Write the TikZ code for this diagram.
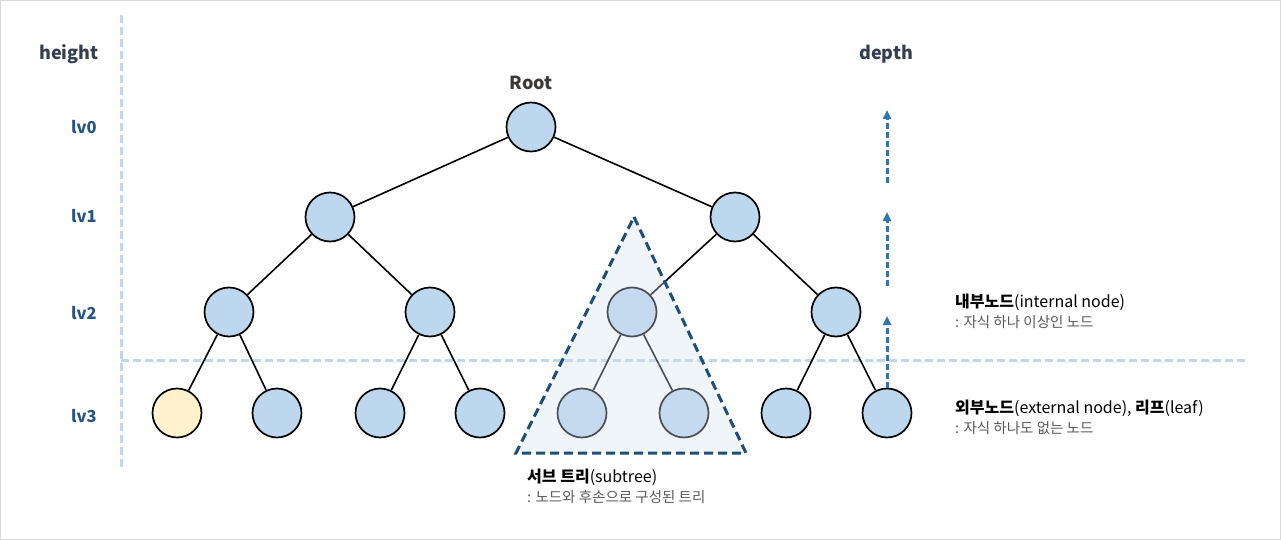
\documentclass[tikz,border=0pt]{standalone}
\usepackage{fontspec}
\setmainfont{Noto Sans CJK KR}
\usepackage{tikz}
\usetikzlibrary{arrows.meta, positioning}
\definecolor{nodeblue}{RGB}{189,215,238}
\definecolor{leafyellow}{RGB}{255,242,204}
\definecolor{guideblue}{RGB}{189,215,238}
\definecolor{depthblue}{RGB}{46,117,182}
\definecolor{subnavy}{RGB}{31,78,121}
\definecolor{subfill}{RGB}{212,226,241}
\definecolor{lvblue}{RGB}{38,84,134}
\definecolor{headgray}{RGB}{51,63,80}
\definecolor{rootgray}{RGB}{59,56,56}
\definecolor{descgray}{RGB}{89,89,89}
\definecolor{framegray}{RGB}{217,217,217}
\tikzset{
  tnode/.style={circle, draw=black, line width=1.7pt, fill=nodeblue,
    minimum size=49pt, inner sep=0pt},
  leafnode/.style={tnode, fill=leafyellow},
  link/.style={line width=1.6pt, black},
  guide/.style={line width=3pt, guideblue, dash pattern=on 8pt off 4pt},
  deptharrow/.style={-{Triangle[length=9pt, width=8pt]}, line width=3pt,
    depthblue, dash pattern=on 6pt off 3pt},
  subtri/.style={line width=3pt, draw=subnavy, dash pattern=on 9pt off 5pt,
    fill=subfill, fill opacity=0.35, draw opacity=1},
  lvlabel/.style={font=\fontsize{16.5}{18}\selectfont\bfseries, text=lvblue},
  headlabel/.style={font=\fontsize{18}{20}\selectfont\bfseries, text=headgray,
    inner sep=0pt},
  desc/.style={font=\fontsize{16}{18}\selectfont, inner sep=0pt, anchor=west},
  subdesc/.style={font=\fontsize{14.5}{16}\selectfont, text=descgray,
    inner sep=0pt},
}
\begin{document}
\begin{tikzpicture}[x=1pt, y=-1pt]
  \useasboundingbox (0,0) rectangle (1281,540);
  \draw[framegray, line width=1pt] (0.5,0.5) rectangle (1280.5,539.5);

  \draw[guide] (121,15) -- (121,468);
  \draw[guide] (121,360) -- (1248,360);

  \node[headlabel] (height) at (69,54) {height};
  \node[headlabel] (depth) at (886,54) {depth};
  \node[lvlabel] (lv0) at (84,127) {lv0};
  \node[lvlabel] (lv1) at (84,216) {lv1};
  \node[lvlabel] (lv2) at (84,313) {lv2};
  \node[lvlabel] (lv3) at (84,416) {lv3};

  \node[tnode] (root) at (531,127) {};
  \node[headlabel, text=rootgray, above=12pt of root] (rootlbl) {Root};
  \node[tnode] (c1) at (330,217) {};
  \node[tnode] (c2) at (735,217) {};
  \node[tnode] (m1) at (229,312) {};
  \node[tnode] (m2) at (430,312) {};
  \node[tnode] (m3) at (632,312) {};
  \node[tnode] (m4) at (836,312) {};
  \node[leafnode] (lf1) at (177,413) {};
  \node[tnode] (lf2) at (277,413) {};
  \node[tnode] (lf3) at (380,413) {};
  \node[tnode] (lf4) at (480,413) {};
  \node[tnode] (lf5) at (582,413) {};
  \node[tnode] (lf6) at (684,413) {};
  \node[tnode] (lf7) at (786,413) {};
  \node[tnode] (lf8) at (887,413) {};

  \draw[link] (root) -- (c1);
  \draw[link] (root) -- (c2);
  \draw[link] (c1) -- (m1);
  \draw[link] (c1) -- (m2);
  \draw[link] (c2) -- (m3);
  \draw[link] (c2) -- (m4);
  \draw[link] (m1) -- (lf1);
  \draw[link] (m1) -- (lf2);
  \draw[link] (m2) -- (lf3);
  \draw[link] (m2) -- (lf4);
  \draw[link] (m3) -- (lf5);
  \draw[link] (m3) -- (lf6);
  \draw[link] (m4) -- (lf7);
  \draw[link] (m4) -- (lf8);

  \draw[subtri] (634,217) -- (746,453) -- (516,453) -- cycle;

  \coordinate (d3) at (887,316);
  \coordinate (d2a) at (887,286);
  \coordinate (d2) at (887,212);
  \coordinate (d1a) at (887,183);
  \coordinate (d1) at (887,110);
  \draw[deptharrow] (lf8.north) -- (d3);
  \draw[deptharrow] (d2a) -- (d2);
  \draw[deptharrow] (d1a) -- (d1);

  \node[desc] (inlbl) at (955,302) {{\bfseries 내부노드}(internal node)};
  \node[subdesc, below=5pt of inlbl.south west, anchor=north west]
    (insub) {: 자식 하나 이상인 노드};
  \node[desc] (exlbl) at (955,408) {{\bfseries 외부노드}(external node), {\bfseries 리프}(leaf)};
  \node[subdesc, below=5pt of exlbl.south west, anchor=north west]
    (exsub) {: 자식 하나도 없는 노드};
  \node[desc] (stlbl) at (527,477) {{\bfseries 서브 트리}(subtree)};
  \node[subdesc, below=5pt of stlbl.south west, anchor=north west]
    (stsub) {: 노드와 후손으로 구성된 트리};
\end{tikzpicture}
\end{document}
